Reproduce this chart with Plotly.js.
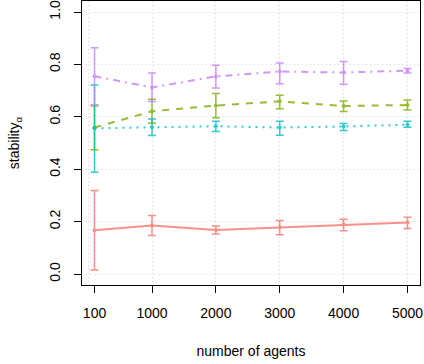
<!DOCTYPE html>
<html>
<head>
<meta charset="utf-8">
<script src="https://cdn.plot.ly/plotly-3.0.1.min.js"></script>
<style>
  html, body { margin: 0; padding: 0; background: #fff; }
  #chart { width: 424px; height: 364px; }
</style>
</head>
<body>
<div id="chart"></div>
<script>
// number of agents in the simulation
const agents = [100, 1000, 2000, 3000, 4000, 5000];
const agentTickLabels = ['100', '1000', '2000', '3000', '4000', '5000'];
const gridAgents = [0, 1000, 2000, 3000, 4000, 5000];
const stabilityTicks = [0, 0.2, 0.4, 0.6, 0.8, 1.0];
const stabilityTickLabels = ['0.0', '0.2', '0.4', '0.6', '0.8', '1.0'];

// mean stability per configuration, with lower / upper interval bounds
const redMean   = [0.167, 0.185, 0.168, 0.178, 0.189, 0.197];
const redLow    = [0.015, 0.147, 0.153, 0.150, 0.165, 0.174];
const redHigh   = [0.319, 0.223, 0.183, 0.204, 0.209, 0.217];

const greenMean = [0.559, 0.621, 0.643, 0.659, 0.641, 0.645];
const greenLow  = [0.474, 0.575, 0.596, 0.631, 0.620, 0.626];
const greenHigh = [0.641, 0.667, 0.689, 0.682, 0.660, 0.664];

const cyanMean  = [0.556, 0.560, 0.564, 0.559, 0.563, 0.570];
const cyanLow   = [0.388, 0.529, 0.544, 0.530, 0.548, 0.560];
const cyanHigh  = [0.721, 0.592, 0.583, 0.583, 0.574, 0.583];

const purpleMean = [0.755, 0.712, 0.754, 0.773, 0.769, 0.776];
const purpleLow  = [0.646, 0.658, 0.710, 0.726, 0.724, 0.767];
const purpleHigh = [0.864, 0.767, 0.797, 0.805, 0.811, 0.784];

function series(mean, low, high, color, dash) {
  return {
    type: 'scatter',
    mode: 'lines+markers',
    x: agents,
    y: mean,
    opacity: 0.8,
    line: { color: color, width: 2, dash: dash },
    marker: { color: color, size: 4 },
    error_y: {
      type: 'data',
      symmetric: false,
      array: high.map((h, i) => h - mean[i]),
      arrayminus: low.map((l, i) => mean[i] - l),
      color: color,
      thickness: 1.5,
      width: 4
    },
    showlegend: false,
    hoverinfo: 'x+y'
  };
}

const data = [
  series(redMean, redLow, redHigh, '#F8766D', 'solid'),
  series(greenMean, greenLow, greenHigh, '#7CAE00', '7px,7px'),
  series(cyanMean, cyanLow, cyanHigh, '#00BFC4', '2px,5px'),
  series(purpleMean, purpleLow, purpleHigh, '#C77CFF', '7px,5px,2px,5px')
];

const font = { family: '"Liberation Sans", Arial, Helvetica, sans-serif', size: 14, color: '#000' };
const xRange = [-96, 5196];

const layout = {
  width: 424,
  height: 364,
  margin: { l: 82, r: 4, t: 1, b: 79 },
  paper_bgcolor: '#fff',
  plot_bgcolor: '#fff',
  font: font,
  showlegend: false,
  xaxis: {
    range: xRange,
    tickmode: 'array',
    tickvals: agents,
    ticktext: agentTickLabels,
    ticks: 'outside',
    ticklen: 7,
    tickwidth: 1,
    tickcolor: '#000',
    ticklabelstandoff: 8,
    showgrid: false,
    zeroline: false,
    showline: true,
    linecolor: '#000',
    linewidth: 1,
    mirror: true,
    title: { text: 'number of agents', font: font, standoff: 26 },
    automargin: false
  },
  xaxis2: {
    overlaying: 'x',
    range: xRange,
    tickmode: 'array',
    tickvals: gridAgents,
    showticklabels: false,
    ticks: '',
    showgrid: true,
    gridcolor: '#d3d3d3',
    griddash: '1px,3px',
    gridwidth: 1,
    zeroline: false,
    showline: false
  },
  yaxis: {
    range: [-0.042, 1.042],
    tickmode: 'array',
    tickvals: stabilityTicks,
    ticktext: stabilityTickLabels,
    tickangle: -90,
    ticks: 'outside',
    ticklen: 7,
    tickwidth: 1,
    tickcolor: '#000',
    ticklabelstandoff: 8,
    ticklabeloverflow: 'allow',
    showgrid: true,
    gridcolor: '#d3d3d3',
    griddash: '1px,3px',
    gridwidth: 1,
    zeroline: false,
    showline: true,
    linecolor: '#000',
    linewidth: 1,
    mirror: true,
    title: { text: 'stability<sub>α</sub>', font: font, standoff: 24 },
    automargin: false
  }
};

// a blank trace keeps the grid axis active
data.unshift({ type: 'scatter', x: [], y: [], xaxis: 'x2', yaxis: 'y', showlegend: false, hoverinfo: 'skip' });

Plotly.newPlot('chart', data, layout, { displayModeBar: false, staticPlot: true });
</script>
</body>
</html>
